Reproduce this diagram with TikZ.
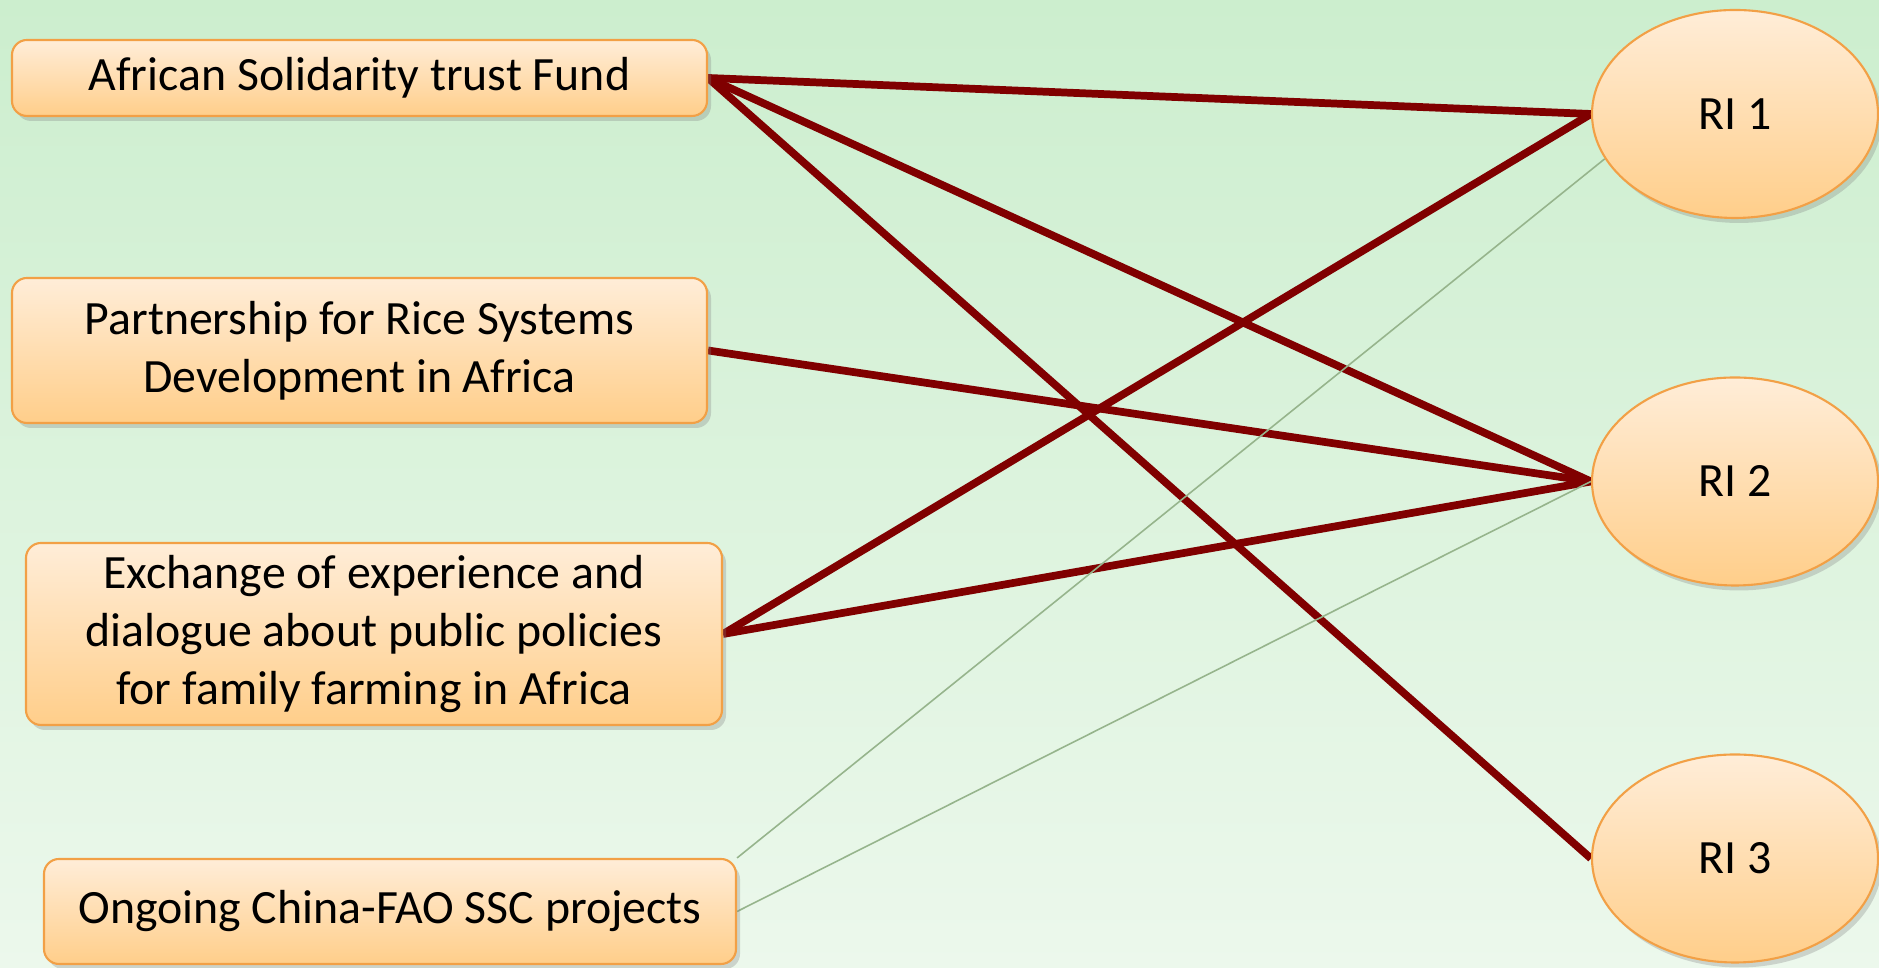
\documentclass[tikz,border=0pt]{standalone}
\usepackage{fontspec}
\setmainfont{Carlito}
\usetikzlibrary{shapes.geometric,shadows,positioning}
\pgfdeclarelayer{bglayer}
\pgfdeclarelayer{edgelayer}
\pgfdeclarelayer{nodelayer}
\pgfsetlayers{bglayer,edgelayer,nodelayer,main}
\definecolor{peachtop}{RGB}{255,237,216}
\definecolor{peachbot}{RGB}{255,206,138}
\definecolor{peachline}{RGB}{242,160,70}
\definecolor{linkred}{RGB}{128,0,0}
\definecolor{sage}{RGB}{150,180,140}
\definecolor{bgtop}{RGB}{204,238,206}
\definecolor{bgbot}{RGB}{236,248,236}
\tikzset{font=\fontsize{13.6}{16.4}\selectfont}
\tikzstyle{program}=[rectangle,rounded corners=1.5mm,draw=peachline,line width=0.6pt,top color=peachtop,bottom color=peachbot,drop shadow={shadow xshift=0.4mm,shadow yshift=-0.5mm,opacity=0.3},align=center,inner sep=0pt]
\tikzstyle{result}=[ellipse,draw=peachline,line width=0.6pt,top color=peachtop,bottom color=peachbot,drop shadow={shadow xshift=0.4mm,shadow yshift=-0.5mm,opacity=0.3},minimum width=2.86cm,minimum height=2.08cm,inner sep=0pt]
\tikzstyle{strong}=[-,draw=linkred,line width=2.2pt]
\tikzstyle{weak}=[-,draw=sage,line width=0.45pt]

\begin{document}
\begin{tikzpicture}
	\useasboundingbox (0,0) rectangle (18.79,9.68);
	\begin{pgfonlayer}{bglayer}
		\shade [top color=bgtop, bottom color=bgbot] (0,0) rectangle (18.79,9.68);
	\end{pgfonlayer}
	\begin{pgfonlayer}{nodelayer}
		\node [style=program, minimum width=6.95cm, minimum height=0.76cm] (ASTF) at (3.595,8.90) {African Solidarity trust Fund};
		\node [style=program, minimum width=6.95cm, minimum height=1.45cm] (PRSDA) at (3.595,6.175) {Partnership for Rice Systems\\Development in Africa};
		\node [style=program, minimum width=6.96cm, minimum height=1.82cm] (EXCH) at (3.74,3.34) {Exchange of experience and\\dialogue about public policies\\for family farming in Africa};
		\node [style=program, minimum width=6.92cm, minimum height=1.05cm] (SSC) at (3.90,0.565) {Ongoing China-FAO SSC projects};
		\node [style=result] (RI1) at (17.35,8.54) {RI 1};
		\node [style=result] (RI2) at (17.35,4.865) {RI 2};
		\node [style=result] (RI3) at (17.35,1.095) {RI 3};
	\end{pgfonlayer}
	\begin{pgfonlayer}{edgelayer}
		\draw [style=strong] (ASTF.east) to (RI1.west);
		\draw [style=strong] (ASTF.east) to (RI2.west);
		\draw [style=strong] (ASTF.east) to (RI3.west);
		\draw [style=strong] (PRSDA.east) to (RI2.west);
		\draw [style=strong] (EXCH.east) to (RI1.west);
		\draw [style=strong] (EXCH.east) to (RI2.west);
		\draw [style=weak] (SSC.north east) to (RI1.199);
		\draw [style=weak] (SSC.east) to (RI2.west);
	\end{pgfonlayer}
\end{tikzpicture}
\end{document}
